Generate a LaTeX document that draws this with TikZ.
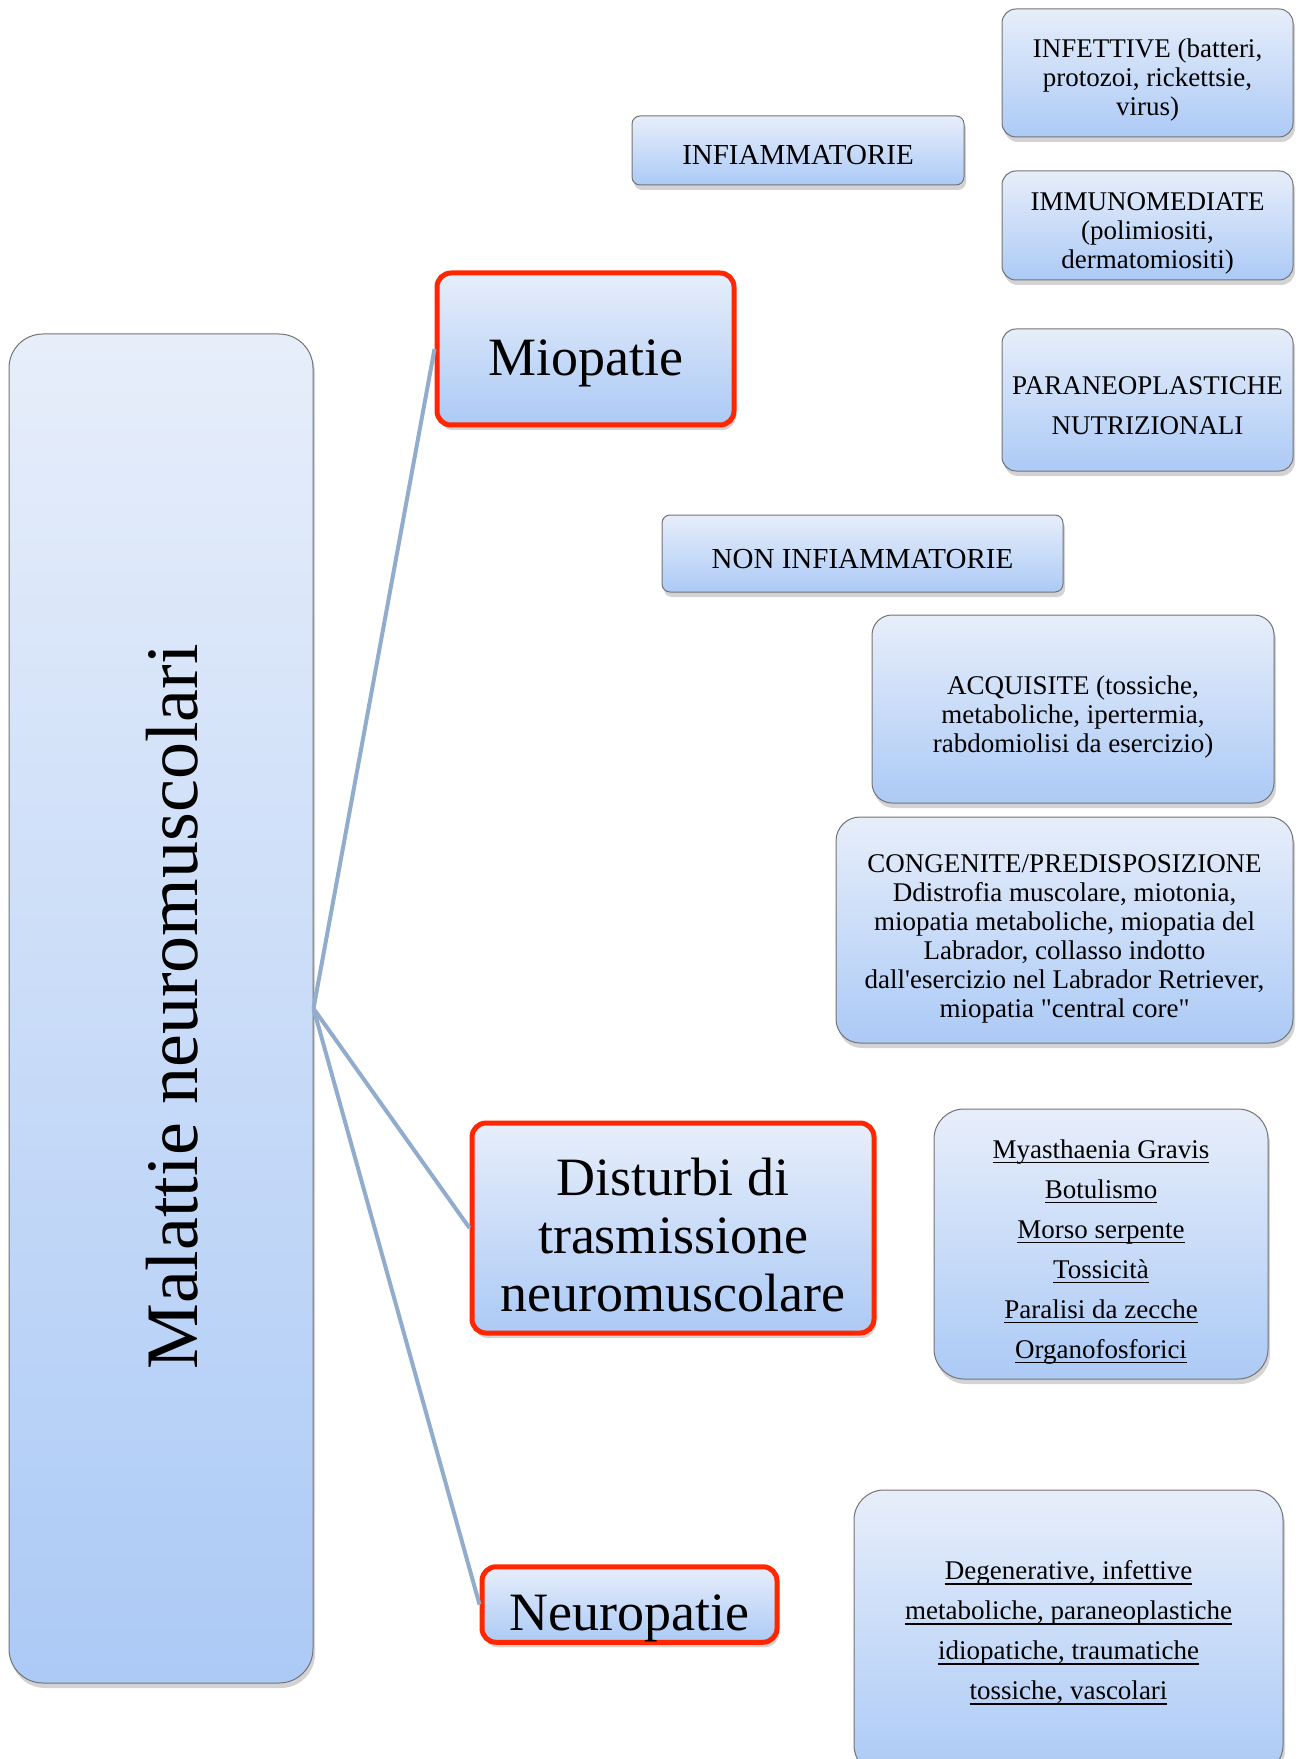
\documentclass[tikz,border=0pt]{standalone}
\usepackage{fontspec}
\setmainfont{Liberation Serif}[Ligatures=TeXOff]
\usetikzlibrary{shadows}
\definecolor{boxtop}{RGB}{231,238,250}
\definecolor{boxbot}{RGB}{172,202,246}
\definecolor{linkblue}{RGB}{146,172,206}
\definecolor{hired}{RGB}{255,38,0}
\newsavebox{\ulbox}
\newcommand{\uln}[1]{\sbox{\ulbox}{#1}\usebox{\ulbox}\llap{\rule[-2.6pt]{\wd\ulbox}{0.9pt}}}
\newcommand{\pushdown}[1]{\rule{0pt}{#1}}
\tikzset{
  box/.style={rounded corners=7pt, draw=black!55, line width=0.5pt,
    top color=boxtop, bottom color=boxbot, align=center, inner sep=0pt,
    drop shadow={shadow xshift=1pt, shadow yshift=-2.5pt, opacity=0.35}},
  keybox/.style={box, draw=hired, line width=2.5pt, font=\fontsize{27}{29}\selectfont},
  catbox/.style={box, rounded corners=4pt, font=\fontsize{14.5}{16}\selectfont},
  smallbox/.style={box, font=\fontsize{13.5}{14.5}\selectfont},
  spacedbox/.style={box, font=\fontsize{13.5}{20}\selectfont},
  link/.style={draw=linkblue, line width=2pt}
}
\begin{document}
\begin{tikzpicture}[x=0.5pt, y=-0.5pt, line join=round]
  \useasboundingbox (0,0) rectangle (1299,1759);
  % main box
  \node[box, rounded corners=17pt, minimum width=152pt, minimum height=674.5pt] (malattie) at (161,1008.5) {};
  \node[rotate=90, font=\fontsize{37}{40}\selectfont] (malattietxt) at (172,1007) {Malattie neuromuscolari};
  % three groups
  \node[keybox, minimum width=148.5pt, minimum height=76pt] (mio) at (585.5,349) {\pushdown{32pt}Miopatie};
  \node[keybox, minimum width=201pt, minimum height=105pt] (dist) at (673,1228) {\pushdown{26pt}Disturbi di\\trasmissione\\neuromuscolare};
  \node[keybox, minimum width=147.5pt, minimum height=35.5pt] (neuro) at (629.5,1604.5) {\pushdown{32pt}Neuropatie};
  % miopatie
  \node[catbox, minimum width=166pt, minimum height=34.5pt] (infiam) at (798,150.5) {\pushdown{14pt}INFIAMMATORIE};
  \node[catbox, minimum width=200.5pt, minimum height=38.5pt] (noninf) at (862.5,553.5) {\pushdown{15.2pt}NON INFIAMMATORIE};
  \node[smallbox, minimum width=145.5pt, minimum height=64pt] (infet) at (1147.5,73) {\pushdown{16pt}INFETTIVE (batteri,\\protozoi, rickettsie,\\virus)};
  \node[smallbox, minimum width=145.5pt, minimum height=54.5pt] (immuno) at (1147.5,225.5) {\pushdown{16.7pt}IMMUNOMEDIATE\\(polimiositi,\\dermatomiositi)};
  \node[spacedbox, minimum width=145.5pt, minimum height=71pt] (paraneo) at (1147.5,400) {\pushdown{14.5pt}PARANEOPLASTICHE\\NUTRIZIONALI};
  \node[smallbox, rounded corners=10pt, minimum width=201pt, minimum height=94pt] (acq) at (1073,709) {\pushdown{17pt}ACQUISITE (tossiche,\\metaboliche, ipertermia,\\rabdomiolisi da esercizio)};
  \node[smallbox, rounded corners=12pt, minimum width=228.5pt, minimum height=113pt] (cong) at (1064.5,930) {\pushdown{18.3pt}CONGENITE/PREDISPOSIZIONE\\Ddistrofia muscolare, miotonia,\\miopatia metaboliche, miopatia del\\Labrador, collasso indotto\\dall'esercizio nel Labrador Retriever,\\miopatia "central core"};
  % disturbi and neuropatie
  \node[spacedbox, rounded corners=15pt, minimum width=167pt, minimum height=135pt] (myas) at (1101,1244) {\pushdown{17pt}\uln{Myasthaenia Gravis}\\\uln{Botulismo}\\\uln{Morso serpente}\\\uln{Tossicità}\\\uln{Paralisi da zecche}\\\uln{Organofosforici}};
  \node[spacedbox, rounded corners=15pt, minimum width=214.5pt, minimum height=142.5pt] (degen) at (1068.5,1632.5) {\uln{Degenerative, infettive}\\\uln{metaboliche, paraneoplastiche}\\\uln{idiopatiche, traumatiche}\\\uln{tossiche, vascolari}};
  % connectors
  \draw[link] (malattie.east) -- (mio.west);
  \draw[link] (malattie.east) -- (dist.west);
  \draw[link] (malattie.east) -- (neuro.west);
\end{tikzpicture}
\end{document}
